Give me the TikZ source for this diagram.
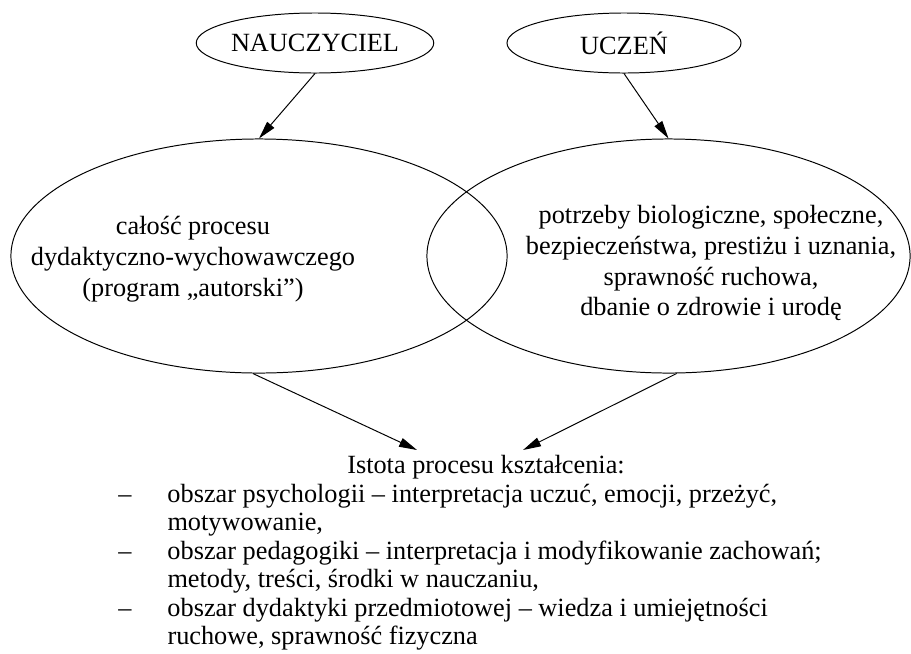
\documentclass[tikz,border=0pt]{standalone}
\usepackage{fontspec}
\setmainfont{Liberation Serif}
\usetikzlibrary{shapes.geometric,arrows.meta}

\begin{document}
\begin{tikzpicture}[x=0.025cm,y=-0.025cm,
  every node/.style={font=\fontsize{18.7}{22}\selectfont},
  oval/.style={draw, ellipse, line width=0.7pt, inner sep=0pt},
  arr/.style={-{Triangle[length=4.5mm,width=2.3mm]}, line width=0.7pt}]
\useasboundingbox (0,0) rectangle (911,653);

\node[oval, minimum width=5.85cm, minimum height=1.5cm] (nauczyciel) at (315,43) {NAUCZYCIEL};
\node[oval, minimum width=5.85cm, minimum height=1.5cm] (uczen) at (624,43) {UCZEŃ};
\node[oval, minimum width=12.4cm, minimum height=5.85cm] (calosc) at (259,256) {};
\node[oval, minimum width=12.075cm, minimum height=5.85cm] (potrzeby) at (668.5,256) {};

\node[align=center] (calosctxt) at (193,259) {całość procesu\\dydaktyczno-wychowawczego\\(program „autorski”)};
\node[align=center] (potrzebytxt) at (711,263) {potrzeby biologiczne, społeczne,\\bezpieczeństwa, prestiżu i uznania,\\sprawność ruchowa,\\dbanie o zdrowie i urodę};

\node[anchor=base, inner sep=0pt] (istota) at (486,473) {Istota procesu kształcenia:};
\node[anchor=base west, inner sep=0pt] (obszary) at (118,502) {\fontsize{18.7}{20.3}\selectfont
\begin{tabular}[t]{@{}p{35pt}@{}l@{}}
– & obszar psychologii – interpretacja uczuć, emocji, przeżyć,\\
  & motywowanie,\\
– & obszar pedagogiki – interpretacja i modyfikowanie zachowań;\\
  & metody, treści, środki w nauczaniu,\\
– & obszar dydaktyki przedmiotowej – wiedza i umiejętności\\
  & ruchowe, sprawność fizyczna
\end{tabular}};

\coordinate (tipL) at (417,450);
\coordinate (tipR) at (523,450);

\draw[arr] (nauczyciel.south) -- (calosc.north);
\draw[arr] (uczen.south) -- (potrzeby.north);
\draw[arr] (calosc.-93) -- (tipL);
\draw[arr] (potrzeby.-86) -- (tipR);
\end{tikzpicture}
\end{document}
